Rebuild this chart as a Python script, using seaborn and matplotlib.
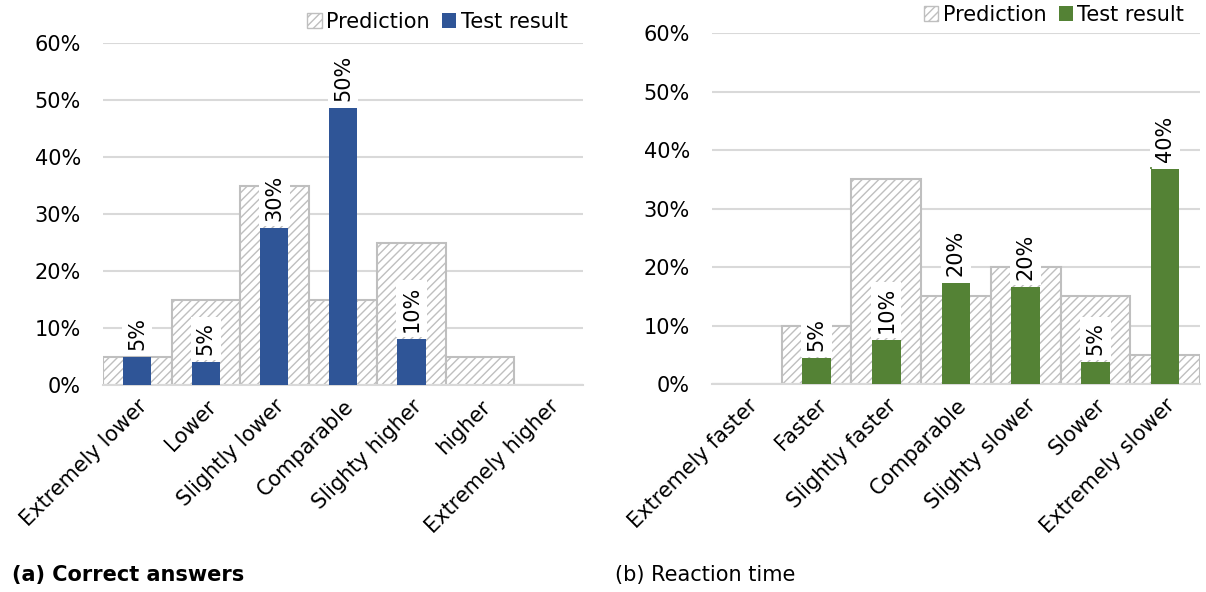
import seaborn as sns
import matplotlib.pyplot as plt
from matplotlib.patches import Patch
from matplotlib.ticker import FuncFormatter

# Data
answer_categories = ['Extremely lower', 'Lower', 'Slightly lower', 'Comparable',
                     'Slighty higher', 'higher', 'Extremely higher']
answer_prediction = [5, 15, 35, 15, 25, 5, 0]
answer_test = [4.9, 4.0, 27.6, 48.6, 8.1, 0, 0]
answer_labels = ['5%', '5%', '30%', '50%', '10%', '', '']

reaction_categories = ['Extremely faster', 'Faster', 'Slightly faster', 'Comparable',
                       'Slighty slower', 'Slower', 'Extremely slower']
reaction_prediction = [0, 10, 35, 15, 20, 15, 5]
reaction_test = [0, 4.4, 7.5, 17.3, 16.6, 3.8, 36.8]
reaction_labels = ['', '5%', '10%', '20%', '20%', '5%', '40%']

y_ticks = [0, 10, 20, 30, 40, 50, 60]

BLUE = '#2F5597'
GREEN = '#548235'
GRID = '#D9D9D9'
HATCH_EDGE = '#BFBFBF'
FS = 15
TEST_WIDTH = 0.41

sns.set_style('white')
plt.rcParams['font.family'] = ['DejaVu Sans']
plt.rcParams['hatch.linewidth'] = 1.0
plt.rcParams['text.color'] = 'black'
plt.rcParams['xtick.color'] = 'black'
plt.rcParams['ytick.color'] = 'black'


def percent(x, pos):
    return f"{x:.0f}%"


def draw_panel(ax, categories, prediction, test, labels, color, legend_y):
    # Prediction: hatched full-width bars
    sns.barplot(x=categories, y=prediction, width=1.0, color='white',
                edgecolor=HATCH_EDGE, linewidth=1.5, hatch='////',
                ax=ax, zorder=2)
    # Test result: narrow solid bars
    sns.barplot(x=categories, y=test, width=TEST_WIDTH, color=color,
                saturation=1, linewidth=0, ax=ax, zorder=3)

    # Value labels on top of test bars
    for i, (h, lab) in enumerate(zip(test, labels)):
        if lab:
            ax.annotate(lab, (i, h), xytext=(0, 5), textcoords='offset points',
                        rotation=90, ha='center', va='bottom', fontsize=FS,
                        zorder=5,
                        bbox=dict(boxstyle='square,pad=0.25', fc='white', ec='none'))

    ax.set_ylim(0, 60)
    ax.set_xlim(-0.5, len(categories) - 0.5)
    ax.set_yticks(y_ticks)
    ax.yaxis.set_major_formatter(FuncFormatter(percent))
    ax.grid(axis='y', color=GRID, linewidth=1.5, zorder=0)
    ax.set_axisbelow(True)
    for s in ['top', 'right', 'left']:
        ax.spines[s].set_visible(False)
    ax.spines['bottom'].set_color(GRID)
    ax.spines['bottom'].set_linewidth(1.5)
    ax.tick_params(axis='x', length=0, labelsize=FS, pad=8)
    ax.tick_params(axis='y', length=0, labelsize=FS, pad=16)
    ax.set_xticks(range(len(categories)))
    ax.set_xticklabels(categories, rotation=45, ha='right',
                       rotation_mode='anchor')

    handles = [Patch(facecolor='white', edgecolor=HATCH_EDGE, hatch='////',
                     label='Prediction'),
               Patch(facecolor=color, edgecolor='none', label='Test result')]
    ax.legend(handles=handles, loc='lower right', bbox_to_anchor=(0.985, legend_y),
              ncol=2, frameon=False, fontsize=FS, handlelength=0.7,
              handleheight=0.7, handletextpad=0.2, columnspacing=0.6,
              borderaxespad=0)


fig = plt.figure(figsize=(12.06, 5.92), dpi=100)
ax1 = fig.add_axes([0.0854, 0.3497, 0.398, 0.577])
ax2 = fig.add_axes([0.5904, 0.3514, 0.4046, 0.5924])

draw_panel(ax1, answer_categories, answer_prediction, answer_test,
           answer_labels, BLUE, 1.01)
draw_panel(ax2, reaction_categories, reaction_prediction, reaction_test,
           reaction_labels, GREEN, 1.0)

# thin stub on the last green bar reaching up to its 40% label
last = len(reaction_test) - 1
ax2.vlines(last - TEST_WIDTH / 2, reaction_test[last], 40, color=GREEN,
           linewidth=1.2, zorder=4)

fig.text(0.010, 0.018, '(a) Correct answers', fontsize=FS, fontweight='bold')
fig.text(0.510, 0.018, '(b) Reaction time', fontsize=FS)

plt.savefig('out.png', dpi=100)
